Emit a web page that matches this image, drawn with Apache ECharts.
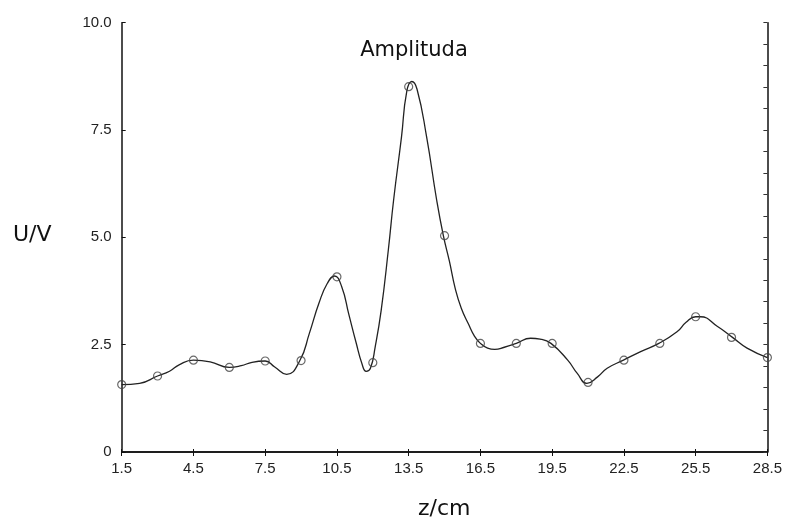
<!DOCTYPE html>
<html>
<head>
<meta charset="utf-8">
<script src="https://cdn.jsdelivr.net/npm/echarts@6/dist/echarts.min.js"></script>
<style>
html,body{margin:0;padding:0;background:#fff;}
#c{width:785px;height:522px;}
</style>
</head>
<body>
<div id="c"></div>
<script>
// Measured points (circles)
var markerX = [1.5, 3, 4.5, 6, 7.5, 9, 10.5, 12, 13.5, 15, 16.5, 18, 19.5, 21, 22.5, 24, 25.5, 27, 28.5];
var markerY = [1.57, 1.77, 2.14, 1.97, 2.12, 2.13, 4.08, 2.08, 8.51, 5.04, 2.53, 2.53, 2.53, 1.62, 2.14, 2.53, 3.15, 2.67, 2.2];

// Fitted curve
var curveX = [1.5, 2.25, 3.0, 3.5, 3.9, 4.5, 5.2, 6.0, 6.5, 6.95, 7.5, 7.9, 8.4, 8.95, 9.35, 9.75, 10.1, 10.4, 10.7, 11.0, 11.3, 11.55, 11.72, 11.9, 12.1, 12.35, 12.65, 12.87, 13.2, 13.42, 13.63, 13.85, 14.25, 14.67, 14.95, 15.2, 15.45, 15.7, 16.0, 16.25, 16.5, 16.8, 17.1, 17.5, 18.0, 18.6, 19.0, 19.45, 20.15, 20.55, 20.95, 21.4, 21.8, 22.48, 23.2, 23.96, 24.72, 25.1, 25.5, 25.7, 26.4, 27.04, 27.65, 28.5];
var curveY = [1.57, 1.6, 1.77, 1.88, 2.03, 2.14, 2.1, 1.97, 2.01, 2.09, 2.12, 1.98, 1.81, 2.13, 2.77, 3.47, 3.93, 4.1, 3.85, 3.2, 2.55, 2.05, 1.88, 1.95, 2.45, 3.3, 4.71, 5.87, 7.34, 8.4, 8.63, 8.45, 7.34, 5.87, 5.04, 4.45, 3.8, 3.35, 2.98, 2.7, 2.53, 2.42, 2.39, 2.44, 2.53, 2.65, 2.63, 2.53, 2.14, 1.83, 1.6, 1.75, 1.95, 2.14, 2.34, 2.53, 2.8, 3.02, 3.15, 3.15, 2.93, 2.67, 2.42, 2.2];

var xTicks = [1.5, 4.5, 7.5, 10.5, 13.5, 16.5, 19.5, 22.5, 25.5, 28.5];
var yTicks = [0, 2.5, 5, 7.5, 10];
var yTickLabels = ['0', '2.5', '5.0', '7.5', '10.0'];

var curve = curveX.map(function (x, i) { return [x, curveY[i]]; });
var marks = markerX.map(function (x, i) { return [x, markerY[i]]; });

var lblFont = {color: '#222', fontSize: 15, fontFamily: 'Liberation Sans'};
var frameLine = {show: true, lineStyle: {color: '#111', width: 1.5}};

var chart = echarts.init(document.getElementById('c'), null, {renderer: 'canvas'});
chart.setOption({
  animation: false,
  backgroundColor: '#fff',
  title: {
    text: 'Amplituda',
    left: 409, top: 35,
    textAlign: 'center',
    textStyle: {fontFamily: 'DejaVu Sans', fontSize: 21, fontWeight: 'normal', color: '#111'}
  },
  graphic: [
    {type: 'text', left: 13, top: 224, style: {text: 'U/V', font: '22px "DejaVu Sans"', fill: '#111'}},
    {type: 'text', left: 418, top: 498, style: {text: 'z/cm', font: '22px "DejaVu Sans"', fill: '#111'}}
  ],
  grid: {left: 121.7, right: 14.3, top: 22.7, bottom: 70, containLabel: false},
  xAxis: [
    {
      type: 'value', min: 1.5, max: 28.5, position: 'bottom',
      axisLine: frameLine,
      axisTick: {show: true, inside: true, length: 3, customValues: xTicks, lineStyle: {color: '#111'}},
      axisLabel: Object.assign({margin: 9, customValues: xTicks, formatter: function (v) { return v.toFixed(1); }}, lblFont),
      splitLine: {show: false}
    },
    {
      type: 'value', min: 1.5, max: 28.5, position: 'top',
      axisLine: frameLine,
      axisTick: {show: true, inside: true, length: 4, customValues: xTicks, lineStyle: {color: '#111'}},
      axisLabel: {show: false},
      splitLine: {show: false}
    }
  ],
  yAxis: [
    {
      type: 'value', min: 0, max: 10, interval: 2.5, position: 'left',
      axisLine: frameLine,
      axisTick: {show: true, inside: true, length: 4, customValues: yTicks, lineStyle: {color: '#111'}},
      axisLabel: Object.assign({margin: 10, customValues: yTicks, formatter: function (v) { return yTickLabels[yTicks.indexOf(v)]; }}, lblFont),
      splitLine: {show: false}
    },
    {
      type: 'value', min: 0, max: 10, interval: 0.5, position: 'right',
      axisLine: frameLine,
      axisTick: {show: true, inside: true, length: 4, lineStyle: {color: '#333'}},
      axisLabel: {show: false},
      splitLine: {show: false}
    }
  ],
  series: [
    {
      type: 'line', data: curve, smooth: 0.5, showSymbol: false, symbol: 'none',
      lineStyle: {color: '#222', width: 1.3}, z: 2, clip: true
    },
    {
      type: 'scatter', data: marks, symbol: 'circle', symbolSize: 8,
      itemStyle: {color: 'rgba(255,255,255,0)', borderColor: '#444', borderWidth: 1.2}, z: 3
    }
  ]
});
</script>
</body>
</html>
